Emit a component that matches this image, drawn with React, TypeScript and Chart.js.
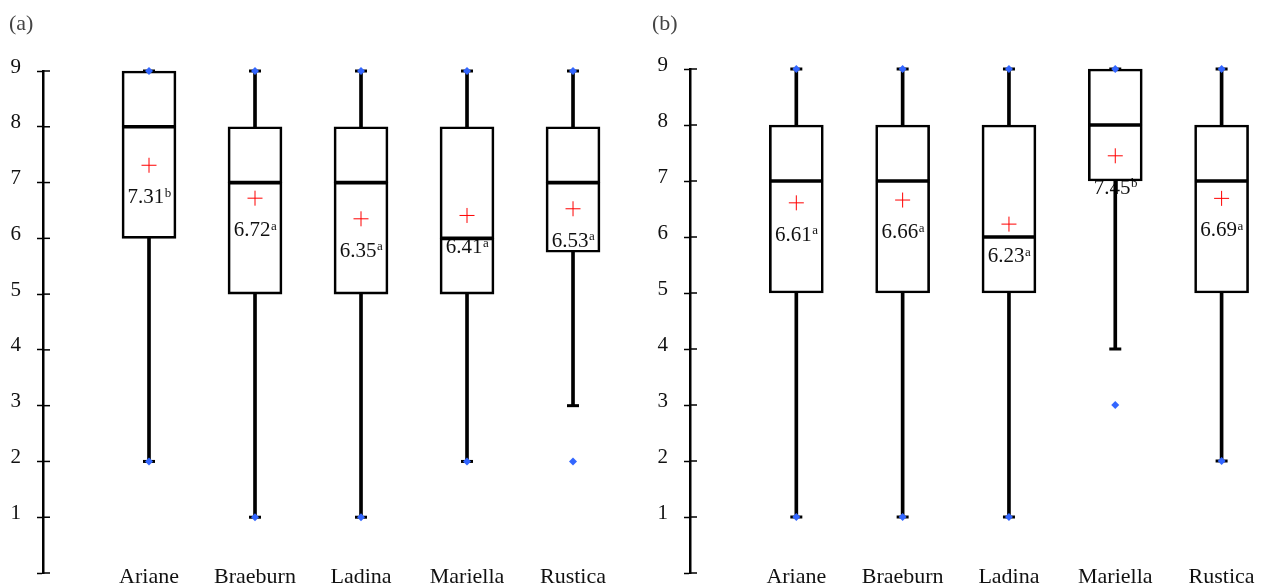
import React, { useEffect, useRef } from 'react';
import { Chart, registerables } from 'chart.js';
Chart.register(...registerables);

const categories = ['Ariane', 'Braeburn', 'Ladina', 'Mariella', 'Rustica'];
const yTicks = [0, 1, 2, 3, 4, 5, 6, 7, 8, 9];

// Panel (a)
const aWhiskerLow = [2, 1, 1, 2, 3];
const aQ1 = [6, 5, 5, 5, 5.75];
const aMedian = [8, 7, 7, 6, 7];
const aQ3 = [9, 8, 8, 8, 8];
const aWhiskerHigh = [9, 9, 9, 9, 9];
const aMin = [2, 1, 1, 2, 2];
const aMax = [9, 9, 9, 9, 9];
const aMean = [7.31, 6.72, 6.35, 6.41, 6.53];
const aLetter = ['b', 'a', 'a', 'a', 'a'];

// Panel (b)
const bWhiskerLow = [1, 1, 1, 4, 2];
const bQ1 = [5, 5, 5, 7, 5];
const bMedian = [7, 7, 6, 8, 7];
const bQ3 = [8, 8, 8, 9, 8];
const bWhiskerHigh = [9, 9, 9, 9, 9];
const bMin = [1, 1, 1, 3, 2];
const bMax = [9, 9, 9, 9, 9];
const bMean = [6.61, 6.66, 6.23, 7.45, 6.69];
const bLetter = ['a', 'a', 'a', 'b', 'a'];

const SERIF = '"Liberation Serif", serif';
const BLUE = '#3366ff';

type PanelProps = {
  label: string;
  left: number;
  labelLeft: number;
  padLeft: number;
  padTop: number;
  padBottom: number;
  xMax: number;
  wl: number[]; q1: number[]; med: number[]; q3: number[]; wh: number[];
  mn: number[]; mx: number[]; mean: number[]; letters: string[];
};

function Panel(p: PanelProps) {
  const ref = useRef<HTMLCanvasElement>(null);
  useEffect(() => {
    const xs = categories.map((_, i) => i + 1);
    const pts = (arr: number[]) => arr.map((v, i) => ({ x: i + 1, y: v }));
    const rng = (a: number[], b: number[]) => a.map((v, i) => ({ x: i + 1, y: [v, b[i]] }));

    const extras = {
      id: 'extras',
      beforeDatasetsDraw(chart: any) {
        const ctx = chart.ctx;
        const xsc = chart.scales.x;
        const ysc = chart.scales.y;
        ctx.save();
        ctx.fillStyle = '#111';
        ctx.textBaseline = 'alphabetic';
        ctx.textAlign = 'left';
        p.mean.forEach((m, i) => {
          const x = xsc.getPixelForValue(i + 1);
          const yc = ysc.getPixelForValue(m) + 31;
          const main = m.toFixed(2);
          ctx.font = `21px ${SERIF}`;
          const w1 = ctx.measureText(main).width;
          ctx.font = `13px ${SERIF}`;
          const w2 = ctx.measureText(p.letters[i]).width;
          const start = x - (w1 + w2) / 2;
          const base = yc + 7;
          ctx.font = `21px ${SERIF}`;
          ctx.fillText(main, start, base);
          ctx.font = `13px ${SERIF}`;
          ctx.fillText(p.letters[i], start + w1 + 0.5, base - 6.5);
        });
        ctx.restore();
      },
      afterDatasetsDraw(chart: any) {
        const ctx = chart.ctx;
        const xsc = chart.scales.x;
        const ysc = chart.scales.y;
        ctx.save();
        // inner half of the y tick marks
        ctx.strokeStyle = '#000';
        ctx.lineWidth = 1.5;
        const ax = chart.chartArea.left;
        yTicks.forEach((v) => {
          const y = ysc.getPixelForValue(v);
          ctx.beginPath();
          ctx.moveTo(ax, y);
          ctx.lineTo(ax + 7, y);
          ctx.stroke();
        });
        // category labels
        ctx.fillStyle = '#111';
        ctx.font = `22px ${SERIF}`;
        ctx.textAlign = 'center';
        ctx.textBaseline = 'alphabetic';
        xs.forEach((v, i) => {
          ctx.fillText(categories[i], xsc.getPixelForValue(v), chart.chartArea.bottom + 10);
        });
        ctx.restore();
      },
    };

    const chart = new Chart(ref.current as HTMLCanvasElement, {
      type: 'bar',
      data: {
        datasets: [
          {
            type: 'scatter',
            data: pts(p.mean) as any,
            pointStyle: 'cross',
            pointRadius: 7.5,
            borderColor: '#ff0000',
            borderWidth: 1,
            clip: false,
          },
          {
            type: 'scatter',
            data: [...pts(p.mn), ...pts(p.mx)] as any,
            pointStyle: 'rectRot',
            pointRadius: 4,
            backgroundColor: BLUE,
            borderColor: BLUE,
            borderWidth: 0,
            clip: false,
          },
          {
            type: 'scatter',
            data: [...pts(p.wl), ...pts(p.wh)] as any,
            pointStyle: 'line',
            pointRadius: 6,
            borderColor: '#000',
            borderWidth: 3,
            clip: false,
          },
          {
            type: 'bar',
            data: rng(p.med, p.q3) as any,
            backgroundColor: 'rgba(255,255,255,0)',
            borderColor: '#000',
            borderWidth: { top: 2, bottom: 1.5, left: 2, right: 2 } as any,
            borderSkipped: false,
            barThickness: 54,
            grouped: false,
            clip: false,
          },
          {
            type: 'bar',
            data: rng(p.q1, p.med) as any,
            backgroundColor: 'rgba(255,255,255,0)',
            borderColor: '#000',
            borderWidth: { top: 1.5, bottom: 2, left: 2, right: 2 } as any,
            borderSkipped: false,
            barThickness: 54,
            grouped: false,
            clip: false,
          },
          {
            type: 'bar',
            data: rng(p.q3, p.wh) as any,
            backgroundColor: '#000',
            borderWidth: 0,
            barThickness: 3,
            grouped: false,
            clip: false,
          },
          {
            type: 'bar',
            data: rng(p.wl, p.q1) as any,
            backgroundColor: '#000',
            borderWidth: 0,
            barThickness: 3,
            grouped: false,
            clip: false,
          },
        ] as any,
      },
      options: {
        animation: false,
        responsive: true,
        maintainAspectRatio: false,
        events: [],
        layout: {
          autoPadding: false,
          padding: { top: p.padTop, left: p.padLeft, right: 0, bottom: p.padBottom },
        },
        plugins: { legend: { display: false }, tooltip: { enabled: false }, title: { display: false } },
        scales: {
          x: {
            type: 'linear',
            min: 0,
            max: p.xMax,
            offset: false,
            grid: { display: false, drawTicks: false },
            border: { display: false },
            ticks: { display: false },
            afterFit: (s: any) => {
              s.height = 0;
              s.paddingLeft = 0;
              s.paddingRight = 0;
              s.paddingTop = 0;
              s.paddingBottom = 0;
            },
          },
          y: {
            type: 'linear',
            min: 0,
            max: 9,
            afterBuildTicks: (s: any) => {
              s.ticks = yTicks.map((v) => ({ value: v }));
            },
            afterFit: (s: any) => {
              s.width = 43;
              s.paddingTop = 0;
              s.paddingBottom = 0;
              s.paddingLeft = 0;
              s.paddingRight = 0;
            },
            grid: {
              drawOnChartArea: false,
              drawTicks: true,
              tickLength: 6,
              tickWidth: 1.5,
              tickColor: '#000',
              color: '#000',
            },
            border: { display: true, color: '#000', width: 2.5 },
            ticks: {
              padding: 16,
              labelOffset: -4,
              color: '#111',
              font: { family: SERIF, size: 21 },
              callback: (v: any) => (Number(v) === 0 ? '' : String(v)),
            },
          },
        },
      },
      plugins: [extras],
    } as any);
    return () => chart.destroy();
  }, []);

  return (
    <div style={{ position: 'absolute', left: p.left, top: 0, width: 631, height: 587 }}>
      <canvas ref={ref} />
      <div
        style={{
          position: 'absolute',
          left: p.labelLeft,
          top: 10,
          lineHeight: '24px',
          font: `22px ${SERIF}`,
          color: '#444',
        }}
      >
        {p.label}
      </div>
    </div>
  );
}

export default function App() {
  return (
    <div style={{ position: 'absolute', left: 0, top: 0, width: 1262, height: 587, background: '#fff', overflow: 'hidden' }}>
      <Panel
        label="(a)"
        left={0}
        labelLeft={9}
        padLeft={0}
        padTop={71}
        padBottom={14}
        xMax={5.547}
        wl={aWhiskerLow} q1={aQ1} med={aMedian} q3={aQ3} wh={aWhiskerHigh}
        mn={aMin} mx={aMax} mean={aMean} letters={aLetter}
      />
      <Panel
        label="(b)"
        left={631}
        labelLeft={21}
        padLeft={16}
        padTop={69}
        padBottom={14}
        xMax={5.38}
        wl={bWhiskerLow} q1={bQ1} med={bMedian} q3={bQ3} wh={bWhiskerHigh}
        mn={bMin} mx={bMax} mean={bMean} letters={bLetter}
      />
    </div>
  );
}
